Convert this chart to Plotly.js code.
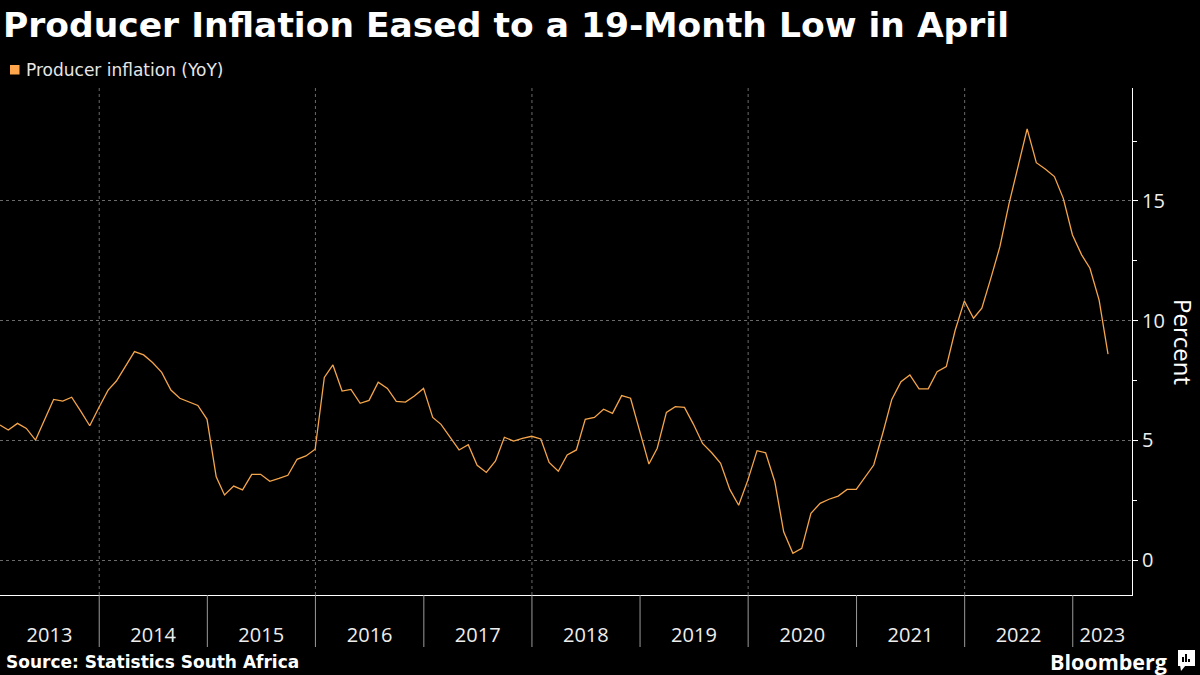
<!DOCTYPE html>
<html>
<head>
<meta charset="utf-8">
<script src="https://cdn.plot.ly/plotly-3.0.1.min.js"></script>
<style>html,body{margin:0;padding:0;background:#000;}#chart{width:1200px;height:675px;}</style>
</head>
<body>
<div id="chart"></div>
<script>
// ---- data ----
const titleText = 'Producer Inflation Eased to a 19-Month Low in April';
const seriesName = 'Producer inflation (YoY)';
const sourceText = 'Source: Statistics South Africa';
const startYear = 2013;
const startMonth = 1; // January
const ppiYoY = [
  5.64, 5.43, 5.71, 5.50, 5.01, 5.86, 6.71, 6.64, 6.80, 6.21, 5.61, 6.37,
  7.10, 7.48, 8.09, 8.71, 8.57, 8.25, 7.84, 7.10, 6.76, 6.62, 6.46, 5.88,
  3.48, 2.72, 3.09, 2.93, 3.58, 3.58, 3.29, 3.41, 3.54, 4.21, 4.35, 4.63,
  7.63, 8.15, 7.06, 7.13, 6.55, 6.67, 7.43, 7.17, 6.63, 6.60, 6.85, 7.17,
  5.96, 5.67, 5.15, 4.60, 4.82, 3.96, 3.66, 4.14, 5.13, 4.97, 5.08, 5.17,
  5.06, 4.08, 3.71, 4.39, 4.60, 5.88, 5.96, 6.30, 6.13, 6.87, 6.76, 5.43,
  4.01, 4.67, 6.17, 6.41, 6.38, 5.68, 4.87, 4.48, 4.04, 2.95, 2.29, 3.34,
  4.57, 4.48, 3.27, 1.18, 0.28, 0.49, 1.95, 2.37, 2.54, 2.67, 2.95, 2.95,
  3.46, 3.97, 5.32, 6.71, 7.45, 7.73, 7.15, 7.15, 7.87, 8.08, 9.60, 10.82,
  10.10, 10.52, 11.80, 13.09, 14.90, 16.40, 18.01, 16.60, 16.34, 16.02, 15.11, 13.58,
  12.75, 12.19, 10.86, 8.60
];
const yearLabels = [2013, 2014, 2015, 2016, 2017, 2018, 2019, 2020, 2021, 2022, 2023];
const gridYears = [2014, 2016, 2018, 2020, 2022];
const xRange = ['2013-01-31', '2023-07-20'];
const yRange = [-1.46, 19.72];

// ---- build x (month-end dates) ----
function iso(d){ return d.toISOString().slice(0,10); }
const xDates = ppiYoY.map((v,i) => iso(new Date(Date.UTC(startYear, startMonth - 1 + i + 1, 0))));

const r0 = Date.parse(xRange[0]), r1 = Date.parse(xRange[1]);
const tickvals = yearLabels.map(y => {
  const a = Math.max(Date.UTC(y,0,1), r0), b = Math.min(Date.UTC(y+1,0,1), r1);
  return iso(new Date((a+b)/2));
});

// pixel helpers for decoration
const W = 1200, H = 675, mL = 0, mR = 68, mT = 88, mB = 80;
const pw = W - mL - mR, ph = H - mT - mB;
const px = p => (p - mL) / pw;
const py = p => (H - mB - p) / ph;

const orange = '#F5A54A';
const shapes = [];
gridYears.forEach(y => shapes.push({type:'line', xref:'x', yref:'paper', x0: y+'-01-01', x1: y+'-01-01', y0:0, y1:1,
  line:{color:'#6a6a6a', width:1, dash:'3px,3px'}, layer:'below'}));
yearLabels.slice(1).forEach(y => shapes.push({type:'line', xref:'x', yref:'paper', x0: y+'-01-01', x1: y+'-01-01', y0:0, y1:py(647),
  line:{color:'#9a9a9a', width:1}}));
// legend swatch
shapes.push({type:'rect', xref:'paper', yref:'paper', x0:px(10), x1:px(19.5), y0:py(74.5), y1:py(65), fillcolor:'#FFA64D', line:{width:0}});
// bloomberg icon
shapes.push({type:'rect', xref:'paper', yref:'paper', x0:px(1178), x1:px(1195), y0:py(666), y1:py(650), fillcolor:'#fff', line:{width:0}});
shapes.push({type:'path', xref:'paper', yref:'paper', path:`M ${px(1180)} ${py(665)} L ${px(1186)} ${py(665)} L ${px(1181)} ${py(671)} Z`, fillcolor:'#fff', line:{width:0}});
[[1182,1184,657],[1185,1187,654],[1188,1190,659]].forEach(b => shapes.push({type:'rect', xref:'paper', yref:'paper', x0:px(b[0]), x1:px(b[1]), y0:py(662), y1:py(b[2]), fillcolor:'#000', line:{width:0}}));

const annotations = [
  {text: seriesName, xref:'paper', yref:'paper', x:px(24), y:py(70), xanchor:'left', yanchor:'middle', showarrow:false,
   font:{family:'DejaVu Sans', size:17, color:'#e6e6e6'}},
  {text:'Percent', xref:'paper', yref:'paper', x:px(1184), y:py(342), xanchor:'center', yanchor:'middle', textangle:90, showarrow:false,
   font:{family:'Open Sans', size:24, color:'#ffffff'}},
  {text:'<b>'+sourceText+'</b>', xref:'paper', yref:'paper', x:px(4), y:py(662), xanchor:'left', yanchor:'middle', showarrow:false,
   font:{family:'DejaVu Sans', size:17, color:'#ffffff'}},
  {text:'<b>Bloomberg</b>', xref:'paper', yref:'paper', x:px(1169), y:py(661), xanchor:'right', yanchor:'middle', showarrow:false,
   font:{family:'Open Sans', size:21.5, color:'#ffffff'}}
];

const trace = {x: xDates, y: ppiYoY, type:'scatter', mode:'lines', name: seriesName,
  line:{color: orange, width:1.3}, hoverinfo:'skip'};

const layout = {
  width: W, height: H,
  paper_bgcolor:'#000', plot_bgcolor:'#000',
  margin:{l:mL, r:mR, t:mT, b:mB},
  showlegend:false,
  title:{text:'<b>'+titleText+'</b>', xref:'container', yref:'container', x:3/W, xanchor:'left', y:1-25/H, yanchor:'middle',
    font:{family:'DejaVu Sans', size:34.5, color:'#ffffff'}},
  xaxis:{type:'date', range:xRange, showgrid:false, zeroline:false, showline:true, linecolor:'#ffffff', linewidth:1,
    tickmode:'array', tickvals:tickvals, ticktext:yearLabels.map(String), ticks:'outside', ticklen:22, tickcolor:'rgba(0,0,0,0)',
    tickfont:{family:'Open Sans', size:20, color:'#eeeeee'}, fixedrange:true},
  yaxis:{side:'right', range:yRange, tick0:0, dtick:5, showgrid:true, gridcolor:'#6a6a6a', griddash:'3px,3px', gridwidth:1,
    zeroline:false, showline:true, linecolor:'#ffffff', linewidth:1, ticks:'outside', ticklen:5, tickcolor:'#ffffff',
    minor:{tick0:0, dtick:2.5, ticks:'outside', ticklen:4, tickcolor:'#ffffff', showgrid:false},
    tickfont:{family:'Open Sans', size:20, color:'#eeeeee'}, fixedrange:true},
  shapes: shapes,
  annotations: annotations
};

Plotly.newPlot('chart', [trace], layout, {displayModeBar:false, staticPlot:true});
</script>
</body>
</html>
